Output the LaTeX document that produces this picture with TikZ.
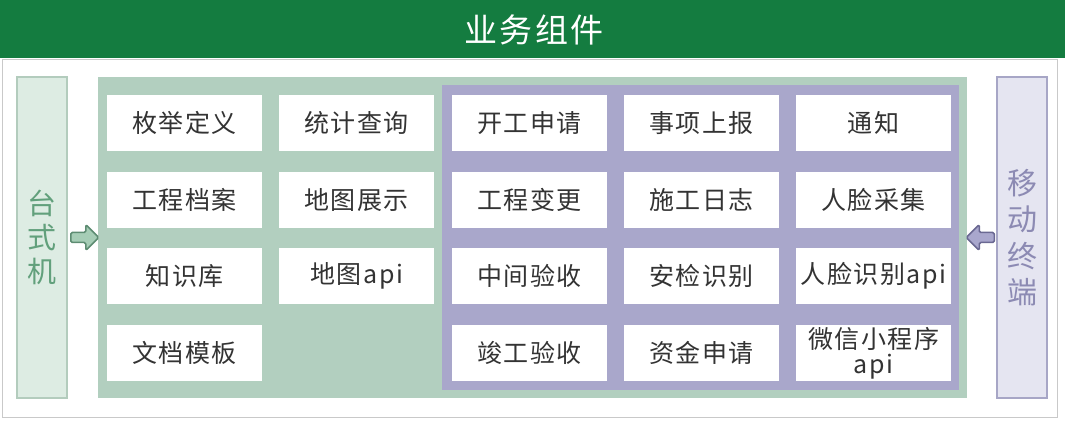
\documentclass[tikz,border=0pt]{standalone}
\usepackage{fontspec}
\setmainfont{Noto Sans CJK SC}
\definecolor{hdr}{HTML}{147C40}
\definecolor{outerline}{HTML}{C9C9C9}
\definecolor{lfill}{HTML}{DDECE3}
\definecolor{ldraw}{HTML}{B3CCBD}
\definecolor{ltext}{HTML}{62A07C}
\definecolor{gpan}{HTML}{B2CFBF}
\definecolor{ppan}{HTML}{A9A7CB}
\definecolor{rfill}{HTML}{E5E5F1}
\definecolor{rdraw}{HTML}{A7A6C6}
\definecolor{rtext}{HTML}{8C8AB3}
\definecolor{alfill}{HTML}{A6CDB6}
\definecolor{aldraw}{HTML}{5D8C72}
\definecolor{arfill}{HTML}{A9A7CD}
\definecolor{ardraw}{HTML}{6A6892}
\definecolor{txt}{HTML}{333333}
\begin{document}
\begin{tikzpicture}[x=1pt,y=-1pt,
  box/.style={fill=white,minimum width=155pt,minimum height=56pt,inner sep=0pt,
    anchor=north west,font=\fontsize{25}{25}\selectfont\addfontfeatures{LetterSpace=6},text=txt,align=center},
  panel/.style={inner sep=0pt,anchor=north west},
  sidebox/.style={inner sep=0pt,minimum width=50pt,minimum height=321pt,line width=1.5pt,align=center},
  hollowL/.style={fill=alfill,draw=aldraw,line width=1.5pt,rounded corners=1.5pt,line join=round},
  hollowR/.style={fill=arfill,draw=ardraw,line width=1.5pt,rounded corners=1.5pt,line join=round}]
\useasboundingbox (0,0) rectangle (1065,427);
% header
\fill[hdr] (0,0) rectangle (1065,58);
\node[text=white,font=\fontsize{33}{33}\selectfont\addfontfeatures{LetterSpace=8}] (title) at (534,30) {业务组件};
% outer frame
\draw[outerline,line width=1pt] (2,59.5) rectangle (1057,417);
% side panels
\node[sidebox,fill=lfill,draw=ldraw,text=ltext,font=\fontsize{29}{34}\selectfont] (tai) at (42,237.5) {台\\式\\机};
\node[sidebox,fill=rfill,draw=rdraw,text=rtext,font=\fontsize{30}{36.5}\selectfont] (mob) at (1022,237.5) {移\\动\\终\\端};
% main panels
\node[panel,fill=gpan,minimum width=869pt,minimum height=321pt] (gp) at (98,77) {};
\node[panel,fill=ppan,minimum width=517pt,minimum height=305pt] (pp) at (442,85) {};
% boxes column 1
\node[box] (b11) at (107,95) {枚举定义};
\node[box] (b12) at (107,172) {工程档案};
\node[box] (b13) at (107,248) {知识库};
\node[box] (b14) at (107,325) {文档模板};
% column 2
\node[box] (b21) at (279,95) {统计查询};
\node[box] (b22) at (279,172) {地图展示};
\node[box] (b23) at (279,248) {地图api};
% column 3
\node[box] (b31) at (452,95) {开工申请};
\node[box] (b32) at (452,172) {工程变更};
\node[box] (b33) at (452,248) {中间验收};
\node[box] (b34) at (452,325) {竣工验收};
% column 4
\node[box] (b41) at (624,95) {事项上报};
\node[box] (b42) at (624,172) {施工日志};
\node[box] (b43) at (624,248) {安检识别};
\node[box] (b44) at (624,325) {资金申请};
% column 5
\node[box] (b51) at (796,95) {通知};
\node[box] (b52) at (796,172) {人脸采集};
\node[box] (b53) at (796,248) {人脸识别api};
\node[box] (b54) at (796,325) {微信小程序\\api};
% arrows
\coordinate (la) at ([xshift=3pt]tai.east);
\draw[hollowL] (la) ++(0,-5) -- ++(15,0) -- ++(0,-8) -- ++(13,13) -- ++(-13,13) -- ++(0,-8) -- ++(-15,0) -- cycle;
\coordinate (ra) at ([xshift=-2pt]mob.west);
\draw[hollowR] (ra) ++(0,-5) -- ++(-15,0) -- ++(0,-8) -- ++(-13,13) -- ++(13,13) -- ++(0,-8) -- ++(15,0) -- cycle;
\end{tikzpicture}
\end{document}
